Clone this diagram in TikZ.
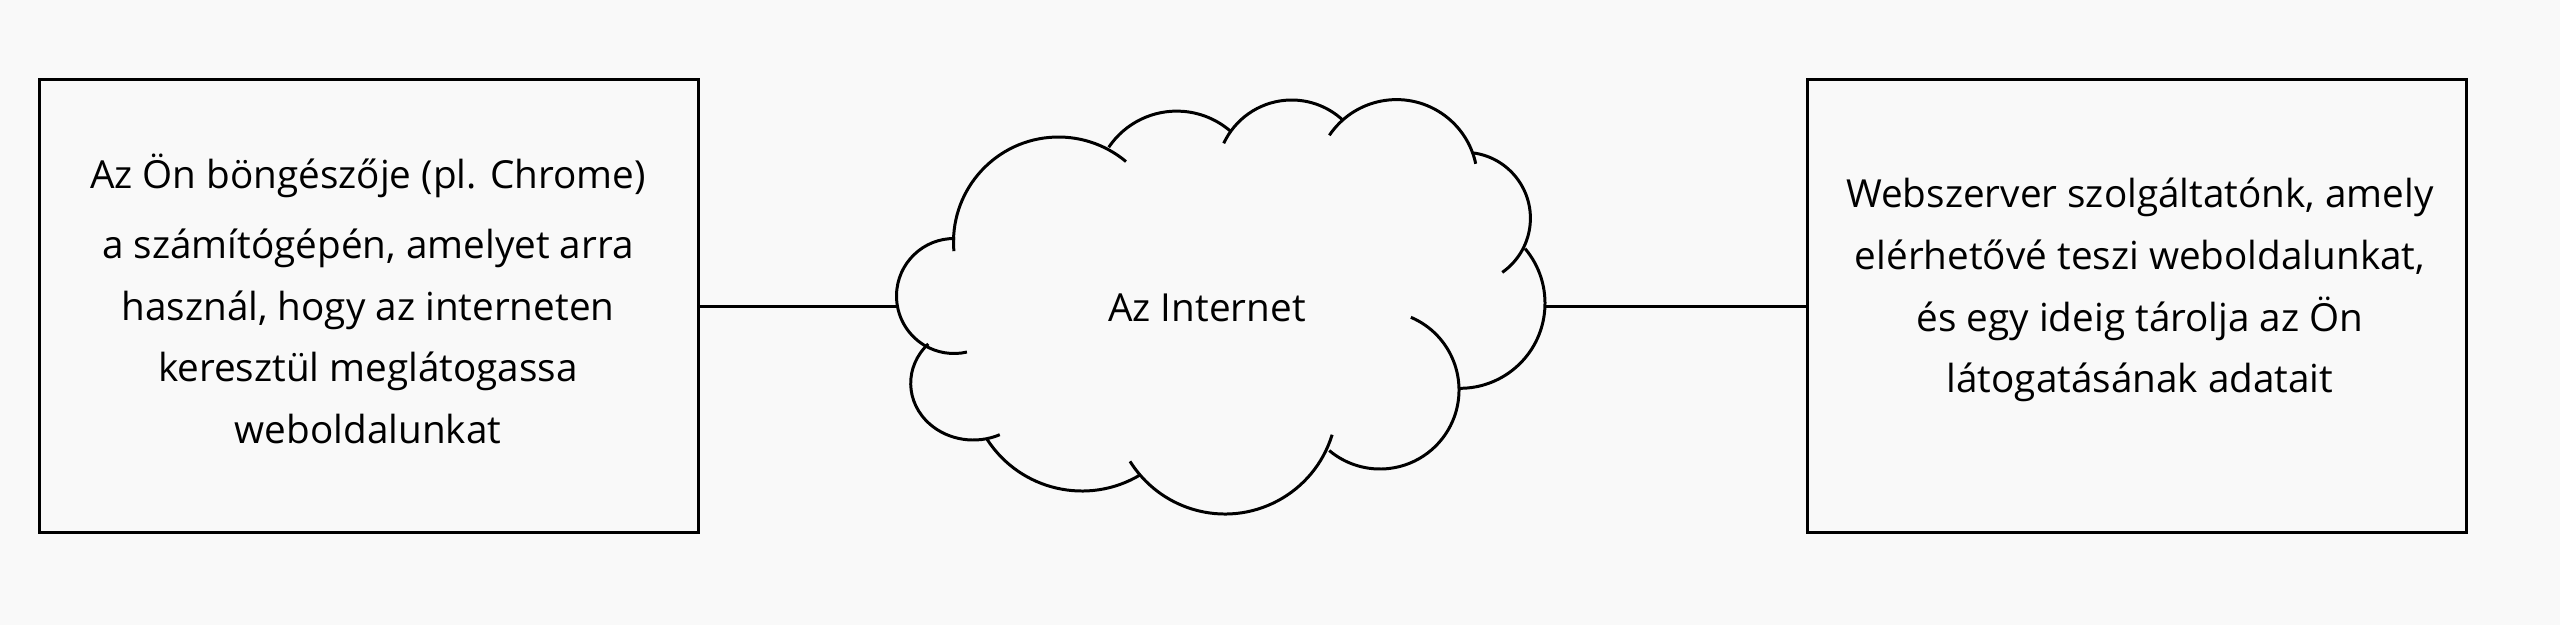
\documentclass[tikz,border=0pt]{standalone}
\usepackage{fontspec}
\setmainfont{Open Sans}
\usetikzlibrary{calc}
\definecolor{bgcol}{HTML}{F9F9F9}

\begin{document}
\begin{tikzpicture}[line width=0.85pt,
    boxnode/.style={draw, minimum width=6.59cm, minimum height=4.53cm,
                    inner sep=0pt},
    txt/.style={align=center, inner sep=0pt,
                font=\fontsize{11}{17.6}\selectfont}]
  \fill[bgcol] (0, 0) rectangle (25.6, 6.25);
  \node[boxnode] (browser) at (3.69, 3.19) {};
  \node[boxnode] (server) at (21.37, 3.19) {};
  \node[minimum width=6.5cm, minimum height=4.17cm, outer sep=0pt]
    (cloud) at (12.21, 3.17) {};
  % the puffs of the cloud
  \foreach \cx/\cy/\rx/\ry/\a/\b in {
      9.54/3.29/0.575/0.575/89/283,
      10.585/3.83/1.05/1.05/185/50,
      11.767/4.319/0.82/0.82/146/49,
      12.917/4.50/0.75/0.75/155/47,
      13.965/4.444/0.81/0.81/146/12,
      14.644/4.067/0.66/0.66/82/-55,
      14.60/3.217/0.85/0.85/40/-90,
      13.80/2.35/0.79/0.79/67/-130,
      12.25/2.23/1.12/1.12/-17/-148,
      10.82/2.47/1.13/1.13/213/301,
      9.733/2.417/0.626/0.567/136/295}{
    \draw (\cx, \cy) ++(\a:\rx cm and \ry cm)
      arc[start angle=\a, end angle=\b, x radius=\rx, y radius=\ry];
  }
  \draw (browser.east) -- (browser.east -| cloud.west);
  \draw (server.west) -- (server.west -| cloud.east);
  \node[txt] (browsertext) at (3.68, 3.26)
    {Az Ön böngészője (pl. Chrome)\\[0.08cm] a számítógépén, amelyet arra\\
     használ, hogy az interneten\\ keresztül meglátogassa\\ weboldalunkat};
  \node[txt] (inettext) at (12.07, 3.17) {Az Internet};
  \node[txt] (servertext) at (21.40, 3.35)
    {Webszerver szolgáltatónk, amely\\ elérhetővé teszi weboldalunkat,\\
     és egy ideig tárolja az Ön\\ látogatásának adatait};
\end{tikzpicture}
\end{document}
